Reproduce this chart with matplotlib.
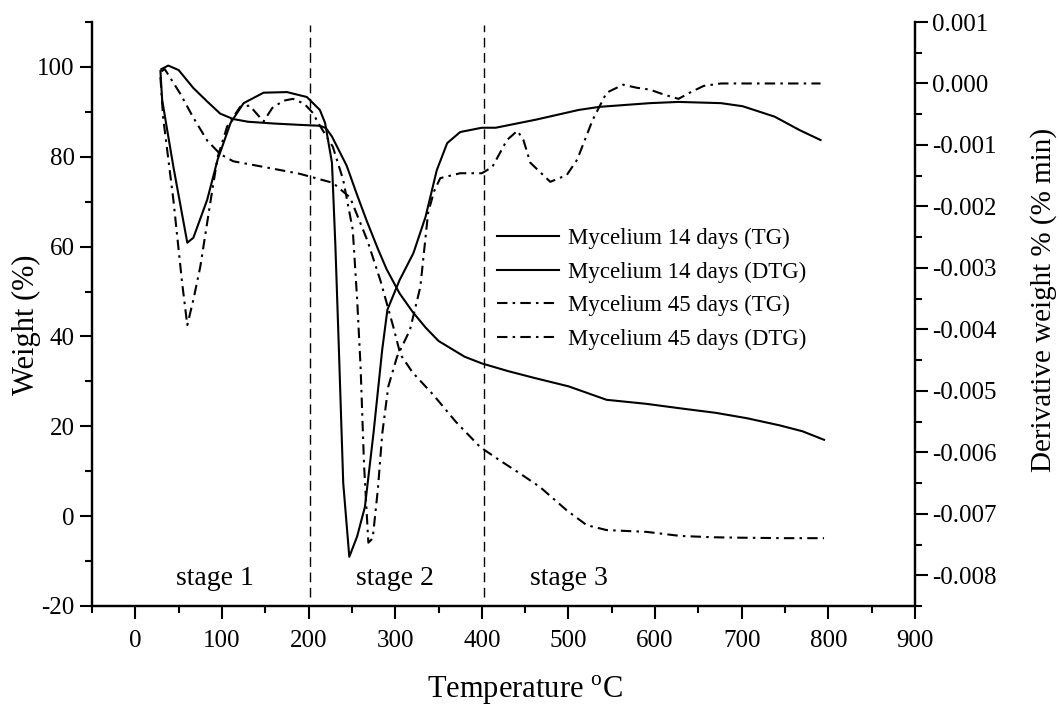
import matplotlib
matplotlib.use("Agg")
import matplotlib.pyplot as plt
from matplotlib.ticker import MultipleLocator, FormatStrFormatter

plt.rcParams["font.family"] = ["Liberation Serif", "DejaVu Serif"]
plt.rcParams["mathtext.fontset"] = "custom"
plt.rcParams["mathtext.rm"] = "Liberation Serif"
plt.rcParams["axes.unicode_minus"] = False

# mycelium 14 days, TG (weight %)
t14_tg = [30, 38, 50, 67, 83, 98, 113, 130, 160, 190, 213, 220, 227, 244, 256,
          267, 280, 290, 305, 320, 335, 350, 362, 380, 400, 430, 460, 500, 544,
          590, 629, 670, 706, 744, 770, 795]
w14_tg = [99.5, 100.3, 99.3, 95.3, 92.3, 89.6, 88.4, 87.8, 87.4, 87.1, 86.9,
          86.4, 84.5, 78.0, 71.5, 65.8, 59.5, 55.0, 49.6, 45.5, 42.0, 39.0,
          37.6, 35.5, 34.0, 32.3, 30.8, 28.9, 25.9, 25.0, 24.0, 23.0, 21.8,
          20.2, 18.9, 17.0]

# mycelium 45 days, TG (weight %)
t45_tg = [30, 34, 52, 67, 83, 98, 113, 152, 190, 228, 248, 268, 283, 298, 306,
          320, 344, 370, 398, 420, 444, 467, 498, 521, 544, 590, 629, 667, 700,
          750, 795]
w45_tg = [99.0, 99.5, 94.0, 88.7, 83.6, 80.6, 79.0, 77.6, 76.2, 74.2, 70.9,
          61.3, 52.4, 42.0, 36.0, 32.0, 27.0, 21.0, 15.4, 12.5, 9.5, 6.5, 1.3,
          -2.0, -3.1, -3.5, -4.4, -4.7, -4.8, -4.9, -4.9]

# mycelium 14 days, DTG (derivative weight)
t14_dtg = [29, 31, 44, 60, 67, 83, 95, 110, 125, 148, 175, 198, 213, 219, 227,
           231, 235, 240, 247, 256, 265, 275, 285, 291, 305, 321, 335, 348, 360,
           375, 400, 416, 462, 512, 536, 594, 627, 676, 701, 738, 767, 791]
d14_dtg = [0.00020, -0.00027, -0.00136, -0.00259, -0.00251, -0.00189, -0.00124,
           -0.00064, -0.00032, -0.00015, -0.00014, -0.00022, -0.00043, -0.00064,
           -0.00129, -0.00266, -0.00433, -0.00650, -0.00770, -0.00737, -0.00689,
           -0.00568, -0.00433, -0.00368, -0.00320, -0.00276, -0.00217, -0.00141,
           -0.00097, -0.00079, -0.00072, -0.00072, -0.00059, -0.00043, -0.00038,
           -0.00032, -0.00030, -0.00032, -0.00037, -0.00054, -0.00076, -0.00092]

# mycelium 45 days, DTG (derivative weight)
t45_dtg = [29, 32, 44, 54, 60, 67, 75, 87, 95, 106, 121, 132, 148, 158, 171,
           182, 195, 205, 211, 228, 240, 251, 256, 260, 264, 269, 274, 280, 285,
           292, 302, 317, 329, 338, 345, 352, 375, 400, 412, 429, 441, 448, 456,
           479, 498, 510, 528, 544, 563, 579, 594, 610, 627, 640, 656, 676, 720,
           791]
d45_dtg = [0.00010, -0.00054, -0.00190, -0.00324, -0.00393, -0.00352, -0.00298,
           -0.00190, -0.00120, -0.00070, -0.00038, -0.00036, -0.00062, -0.00040,
           -0.00028, -0.00025, -0.00033, -0.00048, -0.00064, -0.00103, -0.00157,
           -0.00238, -0.00350, -0.00460, -0.00620, -0.00747, -0.00740, -0.00660,
           -0.00570, -0.00493, -0.00445, -0.00401, -0.00331, -0.00210, -0.00175,
           -0.00154, -0.00146, -0.00146, -0.00136, -0.00092, -0.00077, -0.00092,
           -0.00129, -0.00160, -0.00149, -0.00124, -0.00059, -0.00015, -0.00002,
           -0.00007, -0.00010, -0.00018, -0.00025, -0.00015, -0.00004, 0.0, 0.0,
           0.0]

stage_x = [202, 402]
stage_labels = ["stage 1", "stage 2", "stage 3"]
stage_label_x = [92, 300, 500]

fig = plt.figure(figsize=(10.59, 7.11), dpi=100)
ax = fig.add_axes([92 / 1059, 1 - 606 / 711, 823 / 1059, 584 / 711])
ax2 = ax.twinx()

dashdot = (0, (5, 2.5, 1.2, 2.5))
lw = 1.5

l1, = ax.plot(t14_tg, w14_tg, color="black", lw=lw, label="Mycelium 14 days (TG)")
l3, = ax.plot(t45_tg, w45_tg, color="black", lw=lw, ls=dashdot,
              label="Mycelium 45 days (TG)")
l2, = ax2.plot(t14_dtg, d14_dtg, color="black", lw=lw,
               label="Mycelium 14 days (DTG)")
l4, = ax2.plot(t45_dtg, d45_dtg, color="black", lw=lw, ls=dashdot,
               label="Mycelium 45 days (DTG)")

for xv in stage_x:
    ax.axvline(xv, ymin=0.015, ymax=0.995, color="black", lw=1.0,
               ls=(0, (7, 4)))

for xv, txt in zip(stage_label_x, stage_labels):
    ax.text(xv, -13.8, txt, fontsize=20, ha="center", va="center")

ax.set_xlim(-50, 900)
ax.set_ylim(-20, 110)
ax2.set_ylim(-0.0085, 0.001)

ax.xaxis.set_major_locator(MultipleLocator(100))
ax.xaxis.set_minor_locator(MultipleLocator(50))
ax.yaxis.set_major_locator(MultipleLocator(20))
ax.yaxis.set_minor_locator(MultipleLocator(10))
ax2.yaxis.set_major_locator(MultipleLocator(0.001))
ax2.yaxis.set_minor_locator(MultipleLocator(0.0005))
ax2.yaxis.set_major_formatter(FormatStrFormatter("%.3f"))

for a in (ax, ax2):
    a.spines["top"].set_visible(False)
    for s in a.spines.values():
        s.set_linewidth(1.6)
    a.tick_params(which="major", direction="out", length=9, width=1.5,
                  labelsize=18)
    a.tick_params(which="minor", direction="out", length=5, width=1.5)
ax.tick_params(axis="x", pad=8)

ax.set_xlabel("Temperature $^{\\mathregular{o}}$C", fontsize=22)
ax.set_ylabel("Weight (%)", fontsize=22)
ax2.set_ylabel("Derivative weight % (% min)", fontsize=21)
ax.xaxis.set_label_coords(0.526, -0.116)
ax.yaxis.set_label_coords(-0.062, 0.481)
ax2.yaxis.set_label_coords(1.140, 0.524)

ax2.legend(handles=[l1, l2, l3, l4], loc="upper left",
           bbox_to_anchor=(0.492, 0.648), frameon=False, fontsize=16.5,
           handlelength=2.7, handletextpad=0.4, borderpad=0, borderaxespad=0,
           labelspacing=0.55)

fig.savefig("out.png", dpi=100)
